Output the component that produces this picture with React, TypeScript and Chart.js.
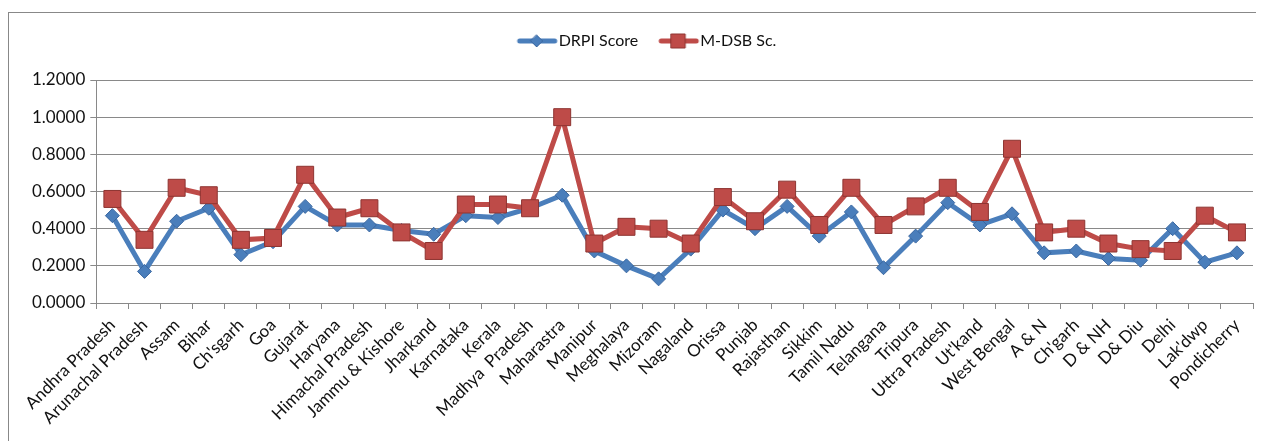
import React, { useEffect, useRef } from "react";
import { Chart, registerables } from "chart.js";

Chart.register(...registerables);

const categories = [
  "Andhra Pradesh", "Arunachal Pradesh", "Assam", "Bihar", "Ch'sgarh", "Goa", "Gujarat", "Haryana",
  "Himachal Pradesh", "Jammu & Kishore", "Jharkand", "Karnataka", "Kerala", "Madhya  Pradesh",
  "Maharastra", "Manipur", "Meghalaya", "Mizoram", "Nagaland", "Orissa", "Punjab", "Rajasthan",
  "Sikkim", "Tamil Nadu", "Telangana", "Tripura", "Uttra Pradesh", "Ut'kand", "West Bengal",
  "A & N", "Ch'garh", "D & NH", "D& Diu", "Delhi", "Lak'dwp", "Pondicherry",
];

const drpiScore = [
  0.47, 0.17, 0.44, 0.51, 0.26, 0.33, 0.52, 0.42, 0.42, 0.39, 0.37, 0.47, 0.46, 0.51, 0.58, 0.28,
  0.2, 0.13, 0.29, 0.5, 0.4, 0.52, 0.36, 0.49, 0.19, 0.36, 0.54, 0.42, 0.48, 0.27, 0.28, 0.24,
  0.23, 0.4, 0.22, 0.27,
];

const mdsbScore = [
  0.56, 0.34, 0.62, 0.58, 0.34, 0.35, 0.69, 0.46, 0.51, 0.38, 0.28, 0.53, 0.53, 0.51, 1.0, 0.32,
  0.41, 0.4, 0.32, 0.57, 0.44, 0.61, 0.42, 0.62, 0.42, 0.52, 0.62, 0.49, 0.83, 0.38, 0.4, 0.32,
  0.29, 0.28, 0.47, 0.38,
];

const yTicks = [0, 0.2, 0.4, 0.6, 0.8, 1.0, 1.2];

const BLUE = "#4A7EBB";
const BLUE_DARK = "#3A67A0";
const RED = "#BE4B48";
const RED_DARK = "#8E3431";
const GRID = "#898989";
const FONT = "Lato, 'Open Sans', sans-serif";

function legendIcon(color: string, dark: string, shape: "diamond" | "square"): HTMLCanvasElement {
  const c = document.createElement("canvas");
  c.width = 60;
  c.height = 18;
  const ctx = c.getContext("2d")!;
  const cx = 33;
  ctx.strokeStyle = color;
  ctx.lineWidth = 5;
  ctx.lineCap = "round";
  ctx.beginPath();
  ctx.moveTo(16, 9);
  ctx.lineTo(51, 9);
  ctx.stroke();
  ctx.fillStyle = color;
  ctx.strokeStyle = dark;
  ctx.lineWidth = 1;
  ctx.beginPath();
  if (shape === "diamond") {
    ctx.moveTo(cx, 3);
    ctx.lineTo(cx + 6, 9);
    ctx.lineTo(cx, 15);
    ctx.lineTo(cx - 6, 9);
    ctx.closePath();
  } else {
    ctx.rect(cx - 7, 2, 14, 14);
  }
  ctx.fill();
  ctx.stroke();
  return c;
}

const legendSpacer = {
  id: "legendSpacer",
  afterInit(chart: any) {
    const legend = chart.legend;
    if (!legend || legend._spaced) return;
    const orig = legend.fit.bind(legend);
    legend.fit = function () {
      orig();
      this.height += 21;
    };
    legend._spaced = true;
  },
};

export default function App() {
  const ref = useRef<HTMLCanvasElement>(null);

  useEffect(() => {
    if (!ref.current) return;
    const icons = [legendIcon(BLUE, BLUE_DARK, "diamond"), legendIcon(RED, RED_DARK, "square")];
    const chart = new Chart(ref.current, {
      type: "line",
      plugins: [legendSpacer],
      data: {
        labels: categories,
        datasets: [
          {
            label: "DRPI Score",
            data: drpiScore,
            borderColor: BLUE,
            backgroundColor: BLUE,
            borderWidth: 5,
            pointStyle: "rectRot",
            pointRadius: 7,
            pointBackgroundColor: BLUE,
            pointBorderColor: BLUE_DARK,
            pointBorderWidth: 1,
            tension: 0,
            order: 1,
          },
          {
            label: "M-DSB Sc.",
            data: mdsbScore,
            borderColor: RED,
            backgroundColor: RED,
            borderWidth: 5,
            pointStyle: "rect",
            pointRadius: 12,
            pointBackgroundColor: RED,
            pointBorderColor: RED_DARK,
            pointBorderWidth: 1,
            tension: 0,
            order: 0,
          },
        ],
      },
      options: {
        responsive: false,
        animation: false,
        layout: { padding: { left: 18, right: 0, top: 0, bottom: 19 } },
        plugins: {
          tooltip: { enabled: false },
          legend: {
            position: "top",
            labels: {
              usePointStyle: true,
              pointStyleWidth: 34,
              color: "#111",
              font: { family: FONT, size: 16 },
              padding: 20,
              sort: (a: any, b: any) => a.datasetIndex - b.datasetIndex,
              generateLabels: (ch: any) => {
                const items = Chart.defaults.plugins.legend.labels.generateLabels(ch);
                return items.map((it: any) => ({ ...it, pointStyle: icons[it.datasetIndex] }));
              },
            },
          },
        },
        scales: {
          x: {
            offset: true,
            grid: {
              display: true,
              drawOnChartArea: false,
              drawTicks: true,
              tickLength: 6,
              color: GRID,
              offset: true,
            },
            border: { display: true, color: GRID },
            ticks: {
              autoSkip: false,
              maxRotation: 45,
              minRotation: 45,
              color: "#111",
              font: { family: FONT, size: 17 },
              padding: 6,
            },
          },
          y: {
            min: 0,
            max: 1.2,
            afterBuildTicks: (axis: any) => {
              axis.ticks = yTicks.map((v) => ({ value: v }));
            },
            grid: { color: GRID, tickLength: 6, drawTicks: true },
            border: { display: true, color: GRID },
            ticks: {
              color: "#111",
              font: { family: FONT, size: 17 },
              padding: 5,
              callback: (v: any) => Number(v).toFixed(4),
            },
          },
        },
      },
    });
    return () => chart.destroy();
  }, []);

  return (
    <div
      style={{
        marginTop: 4,
        width: 1250,
        height: 440,
        border: "1px solid #888",
        overflow: "hidden",
        background: "#fff",
      }}
    >
      <canvas ref={ref} width={1257} height={440} style={{ display: "block" }} />
    </div>
  );
}
